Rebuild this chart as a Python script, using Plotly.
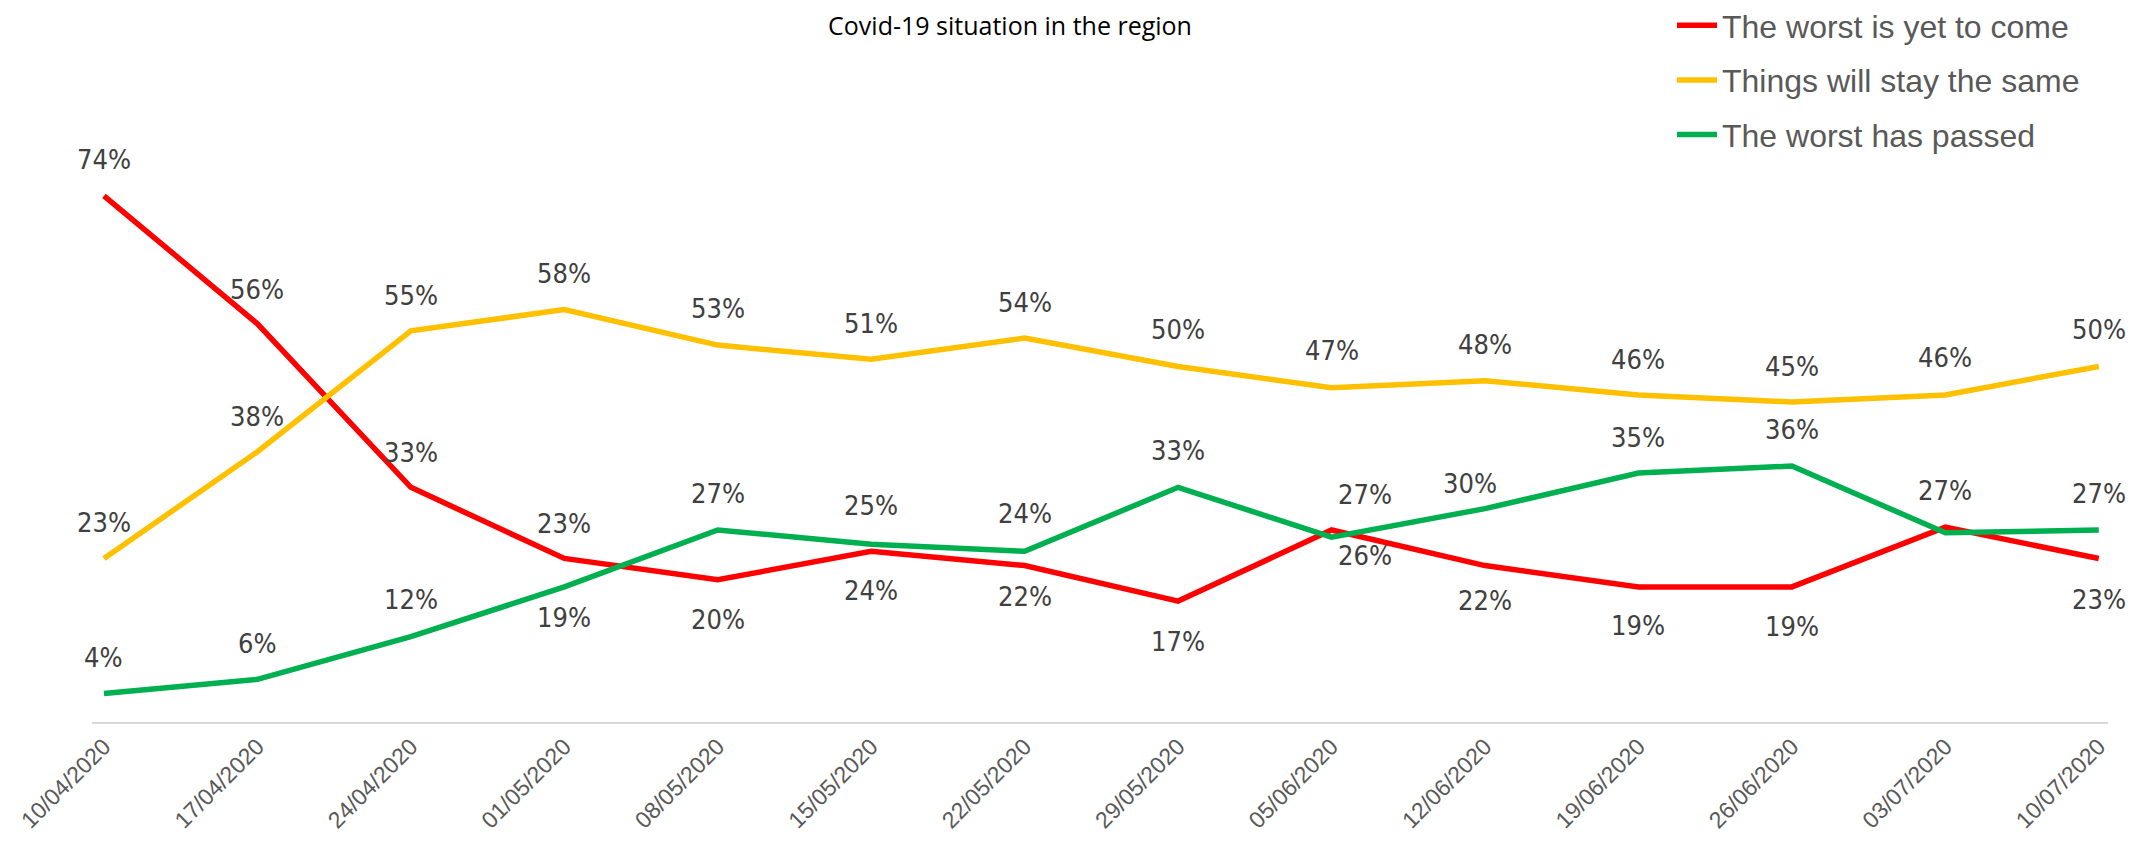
import plotly.graph_objects as go

dates = ["10/04/2020", "17/04/2020", "24/04/2020", "01/05/2020", "08/05/2020",
         "15/05/2020", "22/05/2020", "29/05/2020", "05/06/2020", "12/06/2020",
         "19/06/2020", "26/06/2020", "03/07/2020", "10/07/2020"]

worst_to_come = [74, 56, 33, 23, 20, 24, 22, 17, 27, 22, 19, 19, 27.4, 23]
stay_same = [23, 38, 55, 58, 53, 51, 54, 50, 47, 48, 46, 45, 46, 50]
worst_passed = [4, 6, 12, 19, 27, 25, 24, 33, 26, 30, 35, 36, 26.6, 27]

series_names = ["The worst is yet to come", "Things will stay the same", "The worst has passed"]
series_colors = ["#FF0000", "#FFC000", "#00B050"]

# label offsets in pixels (dy positive = below the point)
red_dy = [-36, -34, -35, -35, 40, 39, 31, 40, -36, 35, 39, 40, -37, 41]
red_dx = [0, 0, 0, 0, 0, 0, 0, 0, 33, 0, 0, 0, 0, 0]
yel_dy = [-36, -35, -35, -36, -37, -36, -36, -37, -37, -36, -35, -36, -37, -37]
yel_dx = [0] * 14
grn_dy = [-36, -36, -37, 31, -37, -39, -38, -37, 18, -25, -36, -37, -37, -37]
grn_dx = [0, 0, 0, 0, 0, 0, 0, 0, 33, -15, 0, 0, 0, 0]
# the green 03/07 label sits exactly under the red one in the reference
grn_show = [True] * 12 + [False, True]
red_show = [True] * 14
yel_show = [True] * 14

all_vals = [worst_to_come, stay_same, worst_passed]
all_dy = [red_dy, yel_dy, grn_dy]
all_dx = [red_dx, yel_dx, grn_dx]
all_show = [red_show, yel_show, grn_show]

label_font = dict(family="DejaVu Sans Condensed, Liberation Sans Narrow, Liberation Sans",
                  size=27, color="#404040")

fig = go.Figure()
annotations = []
for k in range(3):
    fig.add_trace(go.Scatter(
        x=dates, y=all_vals[k], mode="lines", name=series_names[k],
        line=dict(color=series_colors[k], width=5.5),
        legendgroup=f"g{k}", hoverinfo="skip",
    ))
    for i, v in enumerate(all_vals[k]):
        if not all_show[k][i]:
            continue
        annotations.append(dict(
            x=dates[i], y=v, xref="x", yref="y", text=f"{v:.0f}%",
            showarrow=False, xshift=all_dx[k][i], yshift=-all_dy[k][i],
            font=label_font, xanchor="center", yanchor="middle",
        ))

fig.update_layout(
    width=2154, height=842,
    margin=dict(l=84, r=54, t=74, b=128, autoexpand=False),
    paper_bgcolor="white", plot_bgcolor="white",
    title=dict(text="Covid-19 situation in the region", x=1002 / 2154, xanchor="center",
               y=1 - 18 / 842, yanchor="middle",
               font=dict(family="Open Sans, Liberation Sans", size=25, color="#000000")),
    showlegend=True,
    legend=dict(x=(1664 - 84) / 2016, xanchor="left",
                y=1 + 84 / 640, yanchor="top",
                font=dict(family="Liberation Sans", size=32, color="#595959"),
                traceorder="grouped", tracegroupgap=10, bgcolor="rgba(0,0,0,0)",
                itemwidth=40),
    annotations=annotations,
)
fig.update_xaxes(
    type="category", range=[-0.078, 13.06], showgrid=False, zeroline=False,
    showline=True, linecolor="#D9D9D9", linewidth=2, ticks="",
    tickangle=-45, tickfont=dict(family="Liberation Sans", size=23, color="#595959"),
    automargin=False,
)
fig.update_yaxes(range=[0, 90], showgrid=False, zeroline=False, showline=False,
                 showticklabels=False, automargin=False)

fig.write_html("out.html")
